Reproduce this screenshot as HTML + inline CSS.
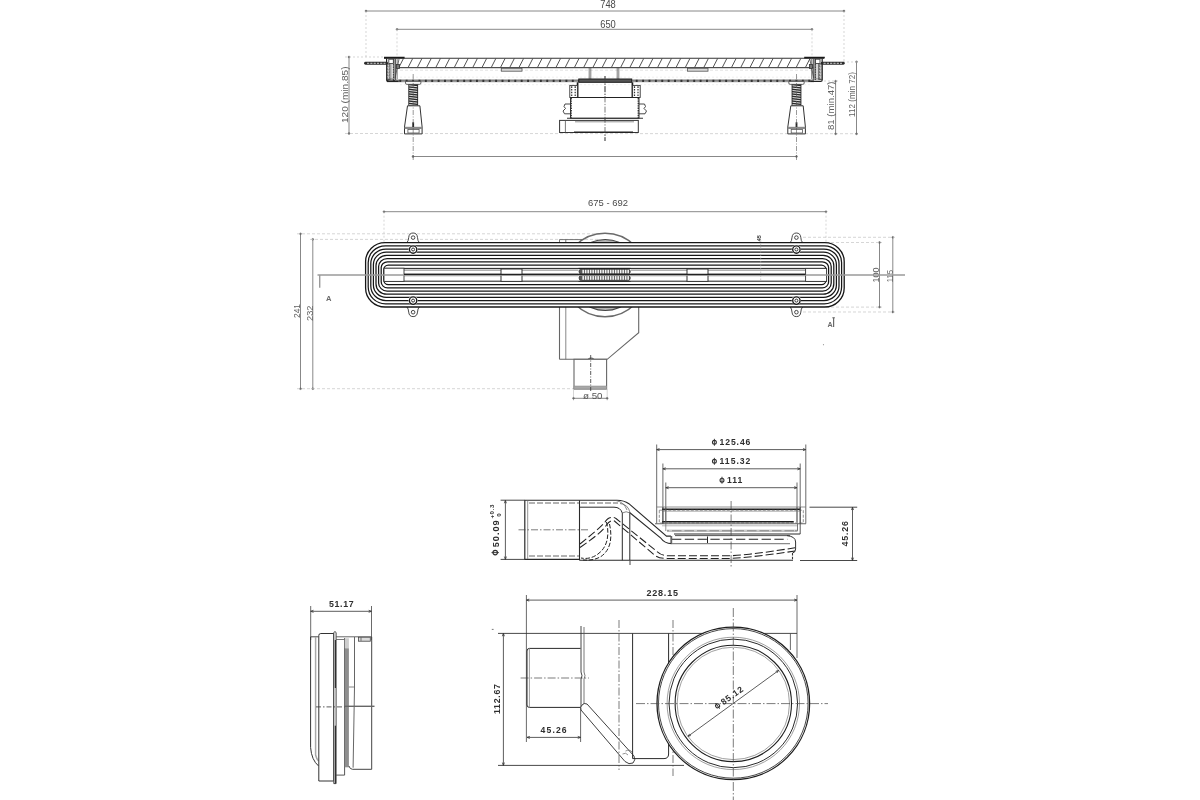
<!DOCTYPE html>
<html><head><meta charset="utf-8"><style>
html,body{margin:0;padding:0;background:#fff;}
svg{display:block;will-change:transform;}
text{font-family:"Liberation Sans",sans-serif;}
</style></head><body>
<svg width="1200" height="800" viewBox="0 0 1200 800" shape-rendering="geometricPrecision">
<rect width="1200" height="800" fill="#fff"/>
<line x1="366.00" y1="11.00" x2="844.00" y2="11.00" stroke="#6a6a6a" stroke-width="0.8" />
<circle cx="366.00" cy="11.00" r="0.90" stroke="#6a6a6a" stroke-width="0.6" fill="#6a6a6a" />
<circle cx="844.00" cy="11.00" r="0.90" stroke="#6a6a6a" stroke-width="0.6" fill="#6a6a6a" />
<line x1="366.00" y1="11.00" x2="366.00" y2="58.00" stroke="#c4c4c4" stroke-width="0.7" stroke-dasharray="2 2"/>
<line x1="844.00" y1="11.00" x2="844.00" y2="62.00" stroke="#c4c4c4" stroke-width="0.7" stroke-dasharray="2 2"/>
<text x="608.00" y="7.60" font-size="10.6" fill="#4a4a4a" text-anchor="middle" font-weight="normal" textLength="15.6" lengthAdjust="spacingAndGlyphs">748</text>
<line x1="397.00" y1="29.30" x2="812.00" y2="29.30" stroke="#6a6a6a" stroke-width="0.8" />
<circle cx="397.00" cy="29.30" r="0.90" stroke="#6a6a6a" stroke-width="0.6" fill="#6a6a6a" />
<circle cx="812.00" cy="29.30" r="0.90" stroke="#6a6a6a" stroke-width="0.6" fill="#6a6a6a" />
<line x1="397.00" y1="29.30" x2="397.00" y2="58.00" stroke="#c4c4c4" stroke-width="0.7" stroke-dasharray="2 2"/>
<line x1="812.00" y1="29.30" x2="812.00" y2="58.00" stroke="#c4c4c4" stroke-width="0.7" stroke-dasharray="2 2"/>
<text x="608.00" y="28.00" font-size="10.6" fill="#4a4a4a" text-anchor="middle" font-weight="normal" textLength="15.6" lengthAdjust="spacingAndGlyphs">650</text>
<line x1="349.00" y1="57.00" x2="349.00" y2="133.50" stroke="#6a6a6a" stroke-width="0.8" />
<circle cx="349.00" cy="57.00" r="0.90" stroke="#6a6a6a" stroke-width="0.6" fill="#6a6a6a" />
<circle cx="349.00" cy="133.50" r="0.90" stroke="#6a6a6a" stroke-width="0.6" fill="#6a6a6a" />
<line x1="345.00" y1="57.00" x2="384.00" y2="57.00" stroke="#c4c4c4" stroke-width="0.7" stroke-dasharray="2 2"/>
<line x1="345.00" y1="133.50" x2="860.00" y2="133.70" stroke="#c4c4c4" stroke-width="0.7" stroke-dasharray="3 2"/>
<text x="347.60" y="94.75" font-size="9.2" fill="#626262" text-anchor="middle" font-weight="normal" textLength="56.5" lengthAdjust="spacingAndGlyphs" transform="rotate(-90 347.60 94.75)">120 (min.85)</text>
<line x1="835.60" y1="81.20" x2="835.60" y2="133.80" stroke="#6a6a6a" stroke-width="0.8" />
<circle cx="835.60" cy="81.20" r="0.90" stroke="#6a6a6a" stroke-width="0.6" fill="#6a6a6a" />
<circle cx="835.60" cy="133.80" r="0.90" stroke="#6a6a6a" stroke-width="0.6" fill="#6a6a6a" />
<line x1="824.00" y1="81.00" x2="838.00" y2="81.00" stroke="#c4c4c4" stroke-width="0.7" stroke-dasharray="2 2"/>
<text x="834.20" y="105.75" font-size="9.2" fill="#626262" text-anchor="middle" font-weight="normal" textLength="48.5" lengthAdjust="spacingAndGlyphs" transform="rotate(-90 834.20 105.75)">81 (min.47)</text>
<line x1="856.50" y1="61.80" x2="856.50" y2="133.80" stroke="#6a6a6a" stroke-width="0.8" />
<circle cx="856.50" cy="61.80" r="0.90" stroke="#6a6a6a" stroke-width="0.6" fill="#6a6a6a" />
<circle cx="856.50" cy="133.80" r="0.90" stroke="#6a6a6a" stroke-width="0.6" fill="#6a6a6a" />
<line x1="843.00" y1="62.00" x2="859.00" y2="62.00" stroke="#c4c4c4" stroke-width="0.7" stroke-dasharray="2 2"/>
<text x="855.30" y="94.50" font-size="9.2" fill="#626262" text-anchor="middle" font-weight="normal" textLength="45" lengthAdjust="spacingAndGlyphs" transform="rotate(-90 855.30 94.50)">112 (min 72)</text>
<line x1="413.00" y1="156.50" x2="796.50" y2="156.50" stroke="#6a6a6a" stroke-width="0.8" />
<circle cx="413.00" cy="156.50" r="0.90" stroke="#6a6a6a" stroke-width="0.6" fill="#6a6a6a" />
<circle cx="796.50" cy="156.50" r="0.90" stroke="#6a6a6a" stroke-width="0.6" fill="#6a6a6a" />
<line x1="384.00" y1="58.30" x2="824.00" y2="58.30" stroke="#333" stroke-width="1.1" />
<line x1="399.00" y1="67.70" x2="814.00" y2="67.70" stroke="#262626" stroke-width="1" />
<line x1="398.80" y1="67.60" x2="403.50" y2="58.40" stroke="#4a4a4a" stroke-width="0.95" />
<line x1="408.04" y1="67.60" x2="412.74" y2="58.40" stroke="#4a4a4a" stroke-width="0.95" />
<line x1="417.28" y1="67.60" x2="421.98" y2="58.40" stroke="#4a4a4a" stroke-width="0.95" />
<line x1="426.52" y1="67.60" x2="431.22" y2="58.40" stroke="#4a4a4a" stroke-width="0.95" />
<line x1="435.76" y1="67.60" x2="440.46" y2="58.40" stroke="#4a4a4a" stroke-width="0.95" />
<line x1="445.00" y1="67.60" x2="449.70" y2="58.40" stroke="#4a4a4a" stroke-width="0.95" />
<line x1="454.24" y1="67.60" x2="458.94" y2="58.40" stroke="#4a4a4a" stroke-width="0.95" />
<line x1="463.48" y1="67.60" x2="468.18" y2="58.40" stroke="#4a4a4a" stroke-width="0.95" />
<line x1="472.72" y1="67.60" x2="477.42" y2="58.40" stroke="#4a4a4a" stroke-width="0.95" />
<line x1="481.96" y1="67.60" x2="486.66" y2="58.40" stroke="#4a4a4a" stroke-width="0.95" />
<line x1="491.20" y1="67.60" x2="495.90" y2="58.40" stroke="#4a4a4a" stroke-width="0.95" />
<line x1="500.44" y1="67.60" x2="505.14" y2="58.40" stroke="#4a4a4a" stroke-width="0.95" />
<line x1="509.68" y1="67.60" x2="514.38" y2="58.40" stroke="#4a4a4a" stroke-width="0.95" />
<line x1="518.92" y1="67.60" x2="523.62" y2="58.40" stroke="#4a4a4a" stroke-width="0.95" />
<line x1="528.16" y1="67.60" x2="532.86" y2="58.40" stroke="#4a4a4a" stroke-width="0.95" />
<line x1="537.40" y1="67.60" x2="542.10" y2="58.40" stroke="#4a4a4a" stroke-width="0.95" />
<line x1="546.64" y1="67.60" x2="551.34" y2="58.40" stroke="#4a4a4a" stroke-width="0.95" />
<line x1="555.88" y1="67.60" x2="560.58" y2="58.40" stroke="#4a4a4a" stroke-width="0.95" />
<line x1="565.12" y1="67.60" x2="569.82" y2="58.40" stroke="#4a4a4a" stroke-width="0.95" />
<line x1="574.36" y1="67.60" x2="579.06" y2="58.40" stroke="#4a4a4a" stroke-width="0.95" />
<line x1="583.60" y1="67.60" x2="588.30" y2="58.40" stroke="#4a4a4a" stroke-width="0.95" />
<line x1="592.84" y1="67.60" x2="597.54" y2="58.40" stroke="#4a4a4a" stroke-width="0.95" />
<line x1="602.08" y1="67.60" x2="606.78" y2="58.40" stroke="#4a4a4a" stroke-width="0.95" />
<line x1="611.32" y1="67.60" x2="616.02" y2="58.40" stroke="#4a4a4a" stroke-width="0.95" />
<line x1="620.56" y1="67.60" x2="625.26" y2="58.40" stroke="#4a4a4a" stroke-width="0.95" />
<line x1="629.80" y1="67.60" x2="634.50" y2="58.40" stroke="#4a4a4a" stroke-width="0.95" />
<line x1="639.04" y1="67.60" x2="643.74" y2="58.40" stroke="#4a4a4a" stroke-width="0.95" />
<line x1="648.28" y1="67.60" x2="652.98" y2="58.40" stroke="#4a4a4a" stroke-width="0.95" />
<line x1="657.52" y1="67.60" x2="662.22" y2="58.40" stroke="#4a4a4a" stroke-width="0.95" />
<line x1="666.76" y1="67.60" x2="671.46" y2="58.40" stroke="#4a4a4a" stroke-width="0.95" />
<line x1="676.00" y1="67.60" x2="680.70" y2="58.40" stroke="#4a4a4a" stroke-width="0.95" />
<line x1="685.24" y1="67.60" x2="689.94" y2="58.40" stroke="#4a4a4a" stroke-width="0.95" />
<line x1="694.48" y1="67.60" x2="699.18" y2="58.40" stroke="#4a4a4a" stroke-width="0.95" />
<line x1="703.72" y1="67.60" x2="708.42" y2="58.40" stroke="#4a4a4a" stroke-width="0.95" />
<line x1="712.96" y1="67.60" x2="717.66" y2="58.40" stroke="#4a4a4a" stroke-width="0.95" />
<line x1="722.20" y1="67.60" x2="726.90" y2="58.40" stroke="#4a4a4a" stroke-width="0.95" />
<line x1="731.44" y1="67.60" x2="736.14" y2="58.40" stroke="#4a4a4a" stroke-width="0.95" />
<line x1="740.68" y1="67.60" x2="745.38" y2="58.40" stroke="#4a4a4a" stroke-width="0.95" />
<line x1="749.92" y1="67.60" x2="754.62" y2="58.40" stroke="#4a4a4a" stroke-width="0.95" />
<line x1="759.16" y1="67.60" x2="763.86" y2="58.40" stroke="#4a4a4a" stroke-width="0.95" />
<line x1="768.40" y1="67.60" x2="773.10" y2="58.40" stroke="#4a4a4a" stroke-width="0.95" />
<line x1="777.64" y1="67.60" x2="782.34" y2="58.40" stroke="#4a4a4a" stroke-width="0.95" />
<line x1="786.88" y1="67.60" x2="791.58" y2="58.40" stroke="#4a4a4a" stroke-width="0.95" />
<line x1="796.12" y1="67.60" x2="800.82" y2="58.40" stroke="#4a4a4a" stroke-width="0.95" />
<line x1="805.36" y1="67.60" x2="810.06" y2="58.40" stroke="#4a4a4a" stroke-width="0.95" />
<line x1="387.00" y1="80.70" x2="814.00" y2="80.70" stroke="#a8a8a8" stroke-width="3.0" />
<line x1="387.00" y1="80.80" x2="814.00" y2="80.80" stroke="#666" stroke-width="0.8" />
<line x1="387.00" y1="80.90" x2="814.00" y2="80.90" stroke="#333" stroke-width="2.2" stroke-dasharray="1.9 4.49" stroke-dashoffset="0.46"/>
<line x1="400.00" y1="77.20" x2="812.00" y2="77.20" stroke="#e6e6e6" stroke-width="0.6" stroke-dasharray="2 2"/>
<line x1="400.00" y1="84.70" x2="812.00" y2="84.70" stroke="#e6e6e6" stroke-width="0.6" stroke-dasharray="2 2"/>
<line x1="400.00" y1="70.20" x2="812.00" y2="70.20" stroke="#cfcfcf" stroke-width="0.6" stroke-dasharray="3 2"/>
<rect x="501.30" y="68.30" width="20.70" height="2.90" stroke="#555" stroke-width="0.8" fill="#d9d9d9" />
<rect x="687.50" y="68.30" width="20.50" height="2.90" stroke="#555" stroke-width="0.8" fill="#d9d9d9" />
<line x1="589.20" y1="67.70" x2="589.20" y2="80.00" stroke="#444" stroke-width="0.7" />
<line x1="590.80" y1="67.70" x2="590.80" y2="80.00" stroke="#444" stroke-width="0.7" />
<line x1="617.20" y1="67.70" x2="617.20" y2="80.00" stroke="#444" stroke-width="0.7" />
<line x1="618.80" y1="67.70" x2="618.80" y2="80.00" stroke="#444" stroke-width="0.7" />
<line x1="384.00" y1="57.60" x2="404.60" y2="57.60" stroke="#1a1a1a" stroke-width="1.7" />
<path d="M386.6,58.5 L386.6,80 Q386.6,81.4 388.1,81.4 L398.6,81.4" stroke="#222" stroke-width="1.2" fill="none" />
<rect x="386.90" y="64.00" width="3.20" height="15.50" stroke="#333" stroke-width="0.8" fill="#fff" />
<rect x="387.50" y="65.00" width="2.00" height="1.80" stroke="#555" stroke-width="0.6" fill="#fff" />
<rect x="387.50" y="68.00" width="2.00" height="1.80" stroke="#555" stroke-width="0.6" fill="#fff" />
<rect x="387.50" y="71.00" width="2.00" height="1.80" stroke="#555" stroke-width="0.6" fill="#fff" />
<rect x="387.50" y="74.00" width="2.00" height="1.80" stroke="#555" stroke-width="0.6" fill="#fff" />
<rect x="387.50" y="77.00" width="2.00" height="1.80" stroke="#555" stroke-width="0.6" fill="#fff" />
<rect x="390.10" y="59.00" width="3.30" height="20.00" stroke="#444" stroke-width="0.7" fill="#fff" />
<line x1="391.80" y1="60.00" x2="391.80" y2="79.00" stroke="#777" stroke-width="0.6" />
<rect x="393.40" y="59.00" width="2.20" height="21.00" stroke="none" stroke-width="0" fill="#9a9a9a" />
<line x1="393.40" y1="59.00" x2="393.40" y2="80.00" stroke="#333" stroke-width="0.9" stroke-dasharray="1.5 1"/>
<line x1="395.60" y1="59.00" x2="395.60" y2="80.00" stroke="#444" stroke-width="0.9" />
<line x1="397.20" y1="58.50" x2="397.20" y2="79.00" stroke="#666" stroke-width="0.8" />
<path d="M399.0,59 L395.1,78" stroke="#444" stroke-width="0.8" fill="none" />
<rect x="396.40" y="64.50" width="3.00" height="4.00" stroke="#333" stroke-width="0.8" fill="#777" />
<rect x="388.80" y="59.20" width="4.50" height="4.20" stroke="#333" stroke-width="0.8" fill="#fff" />
<line x1="824.80" y1="57.60" x2="804.20" y2="57.60" stroke="#1a1a1a" stroke-width="1.7" />
<path d="M822.2,58.5 L822.2,80 Q822.2,81.4 820.7,81.4 L810.2,81.4" stroke="#222" stroke-width="1.2" fill="none" />
<rect x="818.70" y="64.00" width="3.20" height="15.50" stroke="#333" stroke-width="0.8" fill="#fff" />
<rect x="819.30" y="65.00" width="2.00" height="1.80" stroke="#555" stroke-width="0.6" fill="#fff" />
<rect x="819.30" y="68.00" width="2.00" height="1.80" stroke="#555" stroke-width="0.6" fill="#fff" />
<rect x="819.30" y="71.00" width="2.00" height="1.80" stroke="#555" stroke-width="0.6" fill="#fff" />
<rect x="819.30" y="74.00" width="2.00" height="1.80" stroke="#555" stroke-width="0.6" fill="#fff" />
<rect x="819.30" y="77.00" width="2.00" height="1.80" stroke="#555" stroke-width="0.6" fill="#fff" />
<rect x="815.40" y="59.00" width="3.30" height="20.00" stroke="#444" stroke-width="0.7" fill="#fff" />
<line x1="817.00" y1="60.00" x2="817.00" y2="79.00" stroke="#777" stroke-width="0.6" />
<rect x="813.20" y="59.00" width="2.20" height="21.00" stroke="none" stroke-width="0" fill="#9a9a9a" />
<line x1="815.40" y1="59.00" x2="815.40" y2="80.00" stroke="#333" stroke-width="0.9" stroke-dasharray="1.5 1"/>
<line x1="813.20" y1="59.00" x2="813.20" y2="80.00" stroke="#444" stroke-width="0.9" />
<line x1="811.60" y1="58.50" x2="811.60" y2="79.00" stroke="#666" stroke-width="0.8" />
<path d="M809.8000000000001,59 L813.7,78" stroke="#444" stroke-width="0.8" fill="none" />
<rect x="809.40" y="64.50" width="3.00" height="4.00" stroke="#333" stroke-width="0.8" fill="#777" />
<rect x="815.50" y="59.20" width="4.50" height="4.20" stroke="#333" stroke-width="0.8" fill="#fff" />
<line x1="365.50" y1="63.25" x2="386.60" y2="63.25" stroke="#2a2a2a" stroke-width="2.8" stroke-linecap="round"/>
<line x1="367.00" y1="63.25" x2="385.50" y2="63.25" stroke="#d8d8d8" stroke-width="1.0" stroke-dasharray="2.2 1.1"/>
<line x1="822.20" y1="63.25" x2="843.30" y2="63.25" stroke="#2a2a2a" stroke-width="2.8" stroke-linecap="round"/>
<line x1="823.50" y1="63.25" x2="842.00" y2="63.25" stroke="#d8d8d8" stroke-width="1.0" stroke-dasharray="2.2 1.1"/>
<path d="M405.5,81.4 L420.9,81.4 L420.9,83 Q420.9,84.4 419.5,84.4 L406.9,84.4 Q405.5,84.4 405.5,83 Z" stroke="#444" stroke-width="0.8" fill="#f6f6f6" />
<rect x="408.30" y="84.40" width="9.80" height="21.30" stroke="none" stroke-width="0" fill="#2a2a2a" />
<line x1="409.20" y1="85.80" x2="417.20" y2="86.70" stroke="#e4e4e4" stroke-width="1.0" />
<line x1="409.20" y1="88.15" x2="417.20" y2="89.05" stroke="#e4e4e4" stroke-width="1.0" />
<line x1="409.20" y1="90.50" x2="417.20" y2="91.40" stroke="#e4e4e4" stroke-width="1.0" />
<line x1="409.20" y1="92.85" x2="417.20" y2="93.75" stroke="#e4e4e4" stroke-width="1.0" />
<line x1="409.20" y1="95.20" x2="417.20" y2="96.10" stroke="#e4e4e4" stroke-width="1.0" />
<line x1="409.20" y1="97.55" x2="417.20" y2="98.45" stroke="#e4e4e4" stroke-width="1.0" />
<line x1="409.20" y1="99.90" x2="417.20" y2="100.80" stroke="#e4e4e4" stroke-width="1.0" />
<line x1="409.20" y1="102.25" x2="417.20" y2="103.15" stroke="#e4e4e4" stroke-width="1.0" />
<line x1="409.20" y1="104.60" x2="417.20" y2="105.50" stroke="#e4e4e4" stroke-width="1.0" />
<path d="M407.5,105.8 L419.9,105.8 L422.09999999999997,127 L422.09999999999997,133.9 L404.5,133.9 L404.5,127 Z" stroke="#333" stroke-width="1" fill="#fff" />
<rect x="404.50" y="126.80" width="17.60" height="2.20" stroke="none" stroke-width="0" fill="#8a8a8a" />
<rect x="407.90" y="129.40" width="11.20" height="3.60" stroke="#555" stroke-width="0.8" fill="#fff" />
<line x1="413.20" y1="122.30" x2="413.20" y2="127.00" stroke="#222" stroke-width="1.8" />
<line x1="413.20" y1="74.00" x2="413.20" y2="161.00" stroke="#555" stroke-width="0.6" stroke-dasharray="5 1.5 1 1.5"/>
<path d="M788.8,81.4 L804.2,81.4 L804.2,83 Q804.2,84.4 802.8,84.4 L790.2,84.4 Q788.8,84.4 788.8,83 Z" stroke="#444" stroke-width="0.8" fill="#f6f6f6" />
<rect x="791.60" y="84.40" width="9.80" height="21.30" stroke="none" stroke-width="0" fill="#2a2a2a" />
<line x1="792.50" y1="85.80" x2="800.50" y2="86.70" stroke="#e4e4e4" stroke-width="1.0" />
<line x1="792.50" y1="88.15" x2="800.50" y2="89.05" stroke="#e4e4e4" stroke-width="1.0" />
<line x1="792.50" y1="90.50" x2="800.50" y2="91.40" stroke="#e4e4e4" stroke-width="1.0" />
<line x1="792.50" y1="92.85" x2="800.50" y2="93.75" stroke="#e4e4e4" stroke-width="1.0" />
<line x1="792.50" y1="95.20" x2="800.50" y2="96.10" stroke="#e4e4e4" stroke-width="1.0" />
<line x1="792.50" y1="97.55" x2="800.50" y2="98.45" stroke="#e4e4e4" stroke-width="1.0" />
<line x1="792.50" y1="99.90" x2="800.50" y2="100.80" stroke="#e4e4e4" stroke-width="1.0" />
<line x1="792.50" y1="102.25" x2="800.50" y2="103.15" stroke="#e4e4e4" stroke-width="1.0" />
<line x1="792.50" y1="104.60" x2="800.50" y2="105.50" stroke="#e4e4e4" stroke-width="1.0" />
<path d="M790.8,105.8 L803.2,105.8 L805.4,127 L805.4,133.9 L787.8,133.9 L787.8,127 Z" stroke="#333" stroke-width="1" fill="#fff" />
<rect x="787.80" y="126.80" width="17.60" height="2.20" stroke="none" stroke-width="0" fill="#8a8a8a" />
<rect x="791.20" y="129.40" width="11.20" height="3.60" stroke="#555" stroke-width="0.8" fill="#fff" />
<line x1="796.50" y1="122.30" x2="796.50" y2="127.00" stroke="#222" stroke-width="1.8" />
<line x1="796.50" y1="74.00" x2="796.50" y2="161.00" stroke="#555" stroke-width="0.6" stroke-dasharray="5 1.5 1 1.5"/>
<line x1="605.00" y1="76.00" x2="605.00" y2="141.00" stroke="#444" stroke-width="0.7" stroke-dasharray="6 1.5 1.2 1.5"/>
<rect x="578.80" y="79.00" width="52.90" height="3.30" stroke="#1e1e1e" stroke-width="1" fill="#555" />
<line x1="577.60" y1="82.30" x2="577.60" y2="97.50" stroke="#1a1a1a" stroke-width="1.7" />
<line x1="632.40" y1="82.30" x2="632.40" y2="97.50" stroke="#1a1a1a" stroke-width="1.7" />
<rect x="569.80" y="85.40" width="7.60" height="12.10" stroke="#333" stroke-width="0.9" fill="#fff" />
<line x1="571.70" y1="86.30" x2="571.70" y2="96.80" stroke="#333" stroke-width="1.2" stroke-dasharray="1.6 1.1"/>
<line x1="575.20" y1="86.30" x2="575.20" y2="96.80" stroke="#333" stroke-width="1.2" stroke-dasharray="1.6 1.1"/>
<rect x="632.60" y="85.40" width="7.60" height="12.10" stroke="#333" stroke-width="0.9" fill="#fff" />
<line x1="634.50" y1="86.30" x2="634.50" y2="96.80" stroke="#333" stroke-width="1.2" stroke-dasharray="1.6 1.1"/>
<line x1="638.00" y1="86.30" x2="638.00" y2="96.80" stroke="#333" stroke-width="1.2" stroke-dasharray="1.6 1.1"/>
<rect x="570.50" y="97.50" width="68.50" height="20.80" stroke="#333" stroke-width="1" fill="#fff" />
<line x1="571.20" y1="98.00" x2="571.20" y2="118.00" stroke="#333" stroke-width="1.4" stroke-dasharray="1.4 1"/>
<line x1="638.30" y1="98.00" x2="638.30" y2="118.00" stroke="#333" stroke-width="1.4" stroke-dasharray="1.4 1"/>
<line x1="570.50" y1="97.50" x2="639.00" y2="97.50" stroke="#222" stroke-width="1.1" />
<path d="M570.5,104 L565,104 L564,106.5 L565.5,108.5 L563,111 L564.5,113.8 L570.5,113.8" stroke="#333" stroke-width="0.9" fill="none" />
<path d="M639,104 L644.5,104 L645.5,106.5 L644,108.5 L646.5,111 L645,113.8 L639,113.8" stroke="#333" stroke-width="0.9" fill="none" />
<line x1="567.00" y1="118.30" x2="643.00" y2="118.30" stroke="#333" stroke-width="1.1" />
<rect x="559.60" y="120.40" width="78.70" height="12.10" stroke="#333" stroke-width="1" fill="#fff" />
<line x1="565.40" y1="120.40" x2="565.40" y2="132.50" stroke="#555" stroke-width="0.8" />
<line x1="575.00" y1="121.80" x2="634.00" y2="121.80" stroke="#777" stroke-width="0.8" />
<line x1="574.00" y1="132.30" x2="633.00" y2="132.30" stroke="#222" stroke-width="1.6" />
<line x1="605.00" y1="76.00" x2="605.00" y2="141.00" stroke="#444" stroke-width="0.7" stroke-dasharray="6 1.5 1.2 1.5"/>
<line x1="384.00" y1="211.70" x2="826.00" y2="211.70" stroke="#6a6a6a" stroke-width="0.8" />
<circle cx="384.00" cy="211.70" r="0.90" stroke="#6a6a6a" stroke-width="0.6" fill="#6a6a6a" />
<circle cx="826.00" cy="211.70" r="0.90" stroke="#6a6a6a" stroke-width="0.6" fill="#6a6a6a" />
<line x1="384.00" y1="211.70" x2="384.00" y2="243.00" stroke="#c4c4c4" stroke-width="0.7" stroke-dasharray="2 2"/>
<line x1="826.00" y1="211.70" x2="826.00" y2="243.00" stroke="#c4c4c4" stroke-width="0.7" stroke-dasharray="2 2"/>
<text x="608.00" y="206.20" font-size="9.8" fill="#4a4a4a" text-anchor="middle" font-weight="normal" textLength="40" lengthAdjust="spacingAndGlyphs">675 - 692</text>
<line x1="300.50" y1="233.80" x2="300.50" y2="388.70" stroke="#6a6a6a" stroke-width="0.8" />
<circle cx="300.50" cy="233.80" r="0.90" stroke="#6a6a6a" stroke-width="0.6" fill="#6a6a6a" />
<circle cx="300.50" cy="388.70" r="0.90" stroke="#6a6a6a" stroke-width="0.6" fill="#6a6a6a" />
<line x1="312.80" y1="239.30" x2="312.80" y2="388.70" stroke="#6a6a6a" stroke-width="0.8" />
<circle cx="312.80" cy="239.30" r="0.90" stroke="#6a6a6a" stroke-width="0.6" fill="#6a6a6a" />
<circle cx="312.80" cy="388.70" r="0.90" stroke="#6a6a6a" stroke-width="0.6" fill="#6a6a6a" />
<line x1="297.00" y1="233.80" x2="600.00" y2="233.80" stroke="#c4c4c4" stroke-width="0.7" stroke-dasharray="3 2"/>
<line x1="310.00" y1="239.40" x2="600.00" y2="239.40" stroke="#c4c4c4" stroke-width="0.7" stroke-dasharray="3 2"/>
<line x1="297.00" y1="388.70" x2="574.00" y2="388.70" stroke="#c4c4c4" stroke-width="0.7" stroke-dasharray="3 2"/>
<text x="300.20" y="311.00" font-size="9.8" fill="#626262" text-anchor="middle" font-weight="normal" textLength="14" lengthAdjust="spacingAndGlyphs" transform="rotate(-90 300.20 311.00)">241</text>
<text x="312.60" y="313.20" font-size="9.8" fill="#626262" text-anchor="middle" font-weight="normal" textLength="15.5" lengthAdjust="spacingAndGlyphs" transform="rotate(-90 312.60 313.20)">232</text>
<line x1="879.50" y1="242.50" x2="879.50" y2="307.10" stroke="#6a6a6a" stroke-width="0.8" />
<circle cx="879.50" cy="242.50" r="0.90" stroke="#6a6a6a" stroke-width="0.6" fill="#6a6a6a" />
<circle cx="879.50" cy="307.10" r="0.90" stroke="#6a6a6a" stroke-width="0.6" fill="#6a6a6a" />
<line x1="892.80" y1="237.30" x2="892.80" y2="312.00" stroke="#6a6a6a" stroke-width="0.8" />
<circle cx="892.80" cy="237.30" r="0.90" stroke="#6a6a6a" stroke-width="0.6" fill="#6a6a6a" />
<circle cx="892.80" cy="312.00" r="0.90" stroke="#6a6a6a" stroke-width="0.6" fill="#6a6a6a" />
<line x1="826.00" y1="242.50" x2="882.00" y2="242.50" stroke="#c4c4c4" stroke-width="0.7" stroke-dasharray="3 2"/>
<line x1="826.00" y1="307.10" x2="882.00" y2="307.10" stroke="#c4c4c4" stroke-width="0.7" stroke-dasharray="3 2"/>
<line x1="803.00" y1="237.30" x2="895.00" y2="237.30" stroke="#c4c4c4" stroke-width="0.7" stroke-dasharray="3 2"/>
<line x1="803.00" y1="312.00" x2="895.00" y2="312.00" stroke="#c4c4c4" stroke-width="0.7" stroke-dasharray="3 2"/>
<text x="879.40" y="274.90" font-size="9.8" fill="#626262" text-anchor="middle" font-weight="normal" textLength="15" lengthAdjust="spacingAndGlyphs" transform="rotate(-90 879.40 274.90)">100</text>
<text x="892.90" y="276.20" font-size="9.8" fill="#626262" text-anchor="middle" font-weight="normal" textLength="12.3" lengthAdjust="spacingAndGlyphs" transform="rotate(-90 892.90 276.20)">115</text>
<circle cx="605.00" cy="275.00" r="41.80" stroke="#6a6a6a" stroke-width="1.5" fill="none" />
<circle cx="605.20" cy="275.00" r="35.50" stroke="#444" stroke-width="1.1" fill="#b4b4b4" />
<line x1="559.50" y1="239.60" x2="583.00" y2="239.60" stroke="#666" stroke-width="0.9" />
<line x1="559.50" y1="239.60" x2="559.50" y2="243.00" stroke="#666" stroke-width="0.9" />
<line x1="565.80" y1="239.60" x2="565.80" y2="243.00" stroke="#666" stroke-width="0.9" />
<line x1="559.50" y1="300.00" x2="559.50" y2="359.30" stroke="#666" stroke-width="1.1" />
<line x1="565.80" y1="300.00" x2="565.80" y2="359.30" stroke="#888" stroke-width="1.0" />
<path d="M638.7,300 L638.7,332.7 L607.2,359.3 L594,359.3 Q591,357 588,359.3 L559.5,359.3" stroke="#666" stroke-width="1.1" fill="none" />
<rect x="574.00" y="359.30" width="32.60" height="29.70" stroke="#666" stroke-width="1.1" fill="#fff" />
<rect x="574.00" y="386.00" width="32.70" height="3.00" stroke="#888" stroke-width="0.5" fill="#a8a8a8" />
<line x1="590.70" y1="355.00" x2="590.70" y2="392.00" stroke="#333" stroke-width="0.8" stroke-dasharray="4 1.5 1 1.5"/>
<line x1="573.50" y1="389.00" x2="573.50" y2="400.50" stroke="#c4c4c4" stroke-width="0.7" />
<line x1="607.20" y1="389.00" x2="607.20" y2="400.50" stroke="#c4c4c4" stroke-width="0.7" />
<line x1="573.50" y1="398.30" x2="607.20" y2="398.30" stroke="#6a6a6a" stroke-width="0.8" />
<circle cx="573.50" cy="398.30" r="0.90" stroke="#6a6a6a" stroke-width="0.6" fill="#6a6a6a" />
<circle cx="607.20" cy="398.30" r="0.90" stroke="#6a6a6a" stroke-width="0.6" fill="#6a6a6a" />
<text x="592.80" y="398.90" font-size="8.6" fill="#555" text-anchor="middle" font-weight="normal" textLength="19.5" lengthAdjust="spacingAndGlyphs">ø 50</text>
<path d="M406.90000000000003,242.6 Q408.5,241 408.70000000000005,237.5 Q409.1,233 413.1,233 Q417.1,233 417.5,237.5 Q417.70000000000005,241 419.3,242.6" stroke="#333" stroke-width="0.9" fill="#fff" />
<circle cx="413.10" cy="237.60" r="1.80" stroke="#333" stroke-width="0.9" fill="none" />
<path d="M406.90000000000003,307 Q408.5,308.6 408.70000000000005,312.1 Q409.1,316.6 413.1,316.6 Q417.1,316.6 417.5,312.1 Q417.70000000000005,308.6 419.3,307" stroke="#333" stroke-width="0.9" fill="#fff" />
<circle cx="413.10" cy="312.20" r="1.80" stroke="#333" stroke-width="0.9" fill="none" />
<path d="M790.1999999999999,242.6 Q791.8,241 792.0,237.5 Q792.4,233 796.4,233 Q800.4,233 800.8,237.5 Q801.0,241 802.6,242.6" stroke="#333" stroke-width="0.9" fill="#fff" />
<circle cx="796.40" cy="237.60" r="1.80" stroke="#333" stroke-width="0.9" fill="none" />
<path d="M790.1999999999999,307 Q791.8,308.6 792.0,312.1 Q792.4,316.6 796.4,316.6 Q800.4,316.6 800.8,312.1 Q801.0,308.6 802.6,307" stroke="#333" stroke-width="0.9" fill="#fff" />
<circle cx="796.40" cy="312.20" r="1.80" stroke="#333" stroke-width="0.9" fill="none" />
<rect x="365.60" y="242.60" width="478.60" height="64.40" stroke="#161616" stroke-width="1.3" fill="#fff" rx="19.5" ry="19.0"/>
<rect x="368.20" y="245.80" width="473.40" height="58.00" stroke="#161616" stroke-width="1.25" fill="none" rx="17.3" ry="16.8"/>
<rect x="370.80" y="249.00" width="468.20" height="51.60" stroke="#161616" stroke-width="1.25" fill="none" rx="15.1" ry="14.6"/>
<rect x="373.40" y="252.20" width="463.00" height="45.20" stroke="#161616" stroke-width="1.25" fill="none" rx="12.9" ry="12.4"/>
<rect x="376.00" y="255.40" width="457.80" height="38.80" stroke="#161616" stroke-width="1.25" fill="none" rx="10.7" ry="10.2"/>
<rect x="378.60" y="258.60" width="452.60" height="32.40" stroke="#161616" stroke-width="1.25" fill="none" rx="8.5" ry="8.0"/>
<rect x="381.20" y="261.80" width="447.40" height="26.00" stroke="#161616" stroke-width="1.25" fill="none" rx="6.3" ry="5.8"/>
<rect x="383.80" y="265.00" width="442.20" height="19.60" stroke="#161616" stroke-width="1.25" fill="none" rx="4.5" ry="4.5"/>
<line x1="384.00" y1="268.40" x2="826.60" y2="268.40" stroke="#1e1e1e" stroke-width="1.0" />
<line x1="384.00" y1="281.20" x2="826.60" y2="281.20" stroke="#1e1e1e" stroke-width="1.0" />
<line x1="404.00" y1="270.10" x2="805.60" y2="270.10" stroke="#999" stroke-width="1.2" />
<line x1="404.00" y1="274.40" x2="805.60" y2="274.40" stroke="#222" stroke-width="1.2" />
<line x1="404.00" y1="275.90" x2="805.60" y2="275.90" stroke="#aaa" stroke-width="0.8" />
<rect x="384.00" y="268.20" width="20.00" height="13.20" stroke="#333" stroke-width="0.9" fill="#fff" />
<rect x="805.60" y="268.40" width="21.00" height="13.00" stroke="#333" stroke-width="0.9" fill="#fff" />
<rect x="501.00" y="269.00" width="21.00" height="12.40" stroke="#333" stroke-width="1" fill="#fff" />
<line x1="501.00" y1="275.00" x2="522.00" y2="275.00" stroke="#444" stroke-width="0.8" />
<rect x="687.00" y="269.00" width="21.00" height="12.40" stroke="#333" stroke-width="1" fill="#fff" />
<line x1="687.00" y1="275.00" x2="708.00" y2="275.00" stroke="#444" stroke-width="0.8" />
<rect x="578.50" y="268.90" width="52.20" height="12.00" stroke="none" stroke-width="0" fill="#fff" />
<rect x="579.00" y="269.00" width="51.30" height="5.20" stroke="#333" stroke-width="0.7" fill="#5a5a5a" rx="2.60" ry="2.60"/>
<rect x="582.40" y="269.80" width="1.55" height="3.60" stroke="none" stroke-width="0" fill="#f4f4f4" />
<rect x="584.90" y="269.80" width="1.55" height="3.60" stroke="none" stroke-width="0" fill="#f4f4f4" />
<rect x="587.40" y="269.80" width="1.55" height="3.60" stroke="none" stroke-width="0" fill="#f4f4f4" />
<rect x="589.90" y="269.80" width="1.55" height="3.60" stroke="none" stroke-width="0" fill="#f4f4f4" />
<rect x="592.40" y="269.80" width="1.55" height="3.60" stroke="none" stroke-width="0" fill="#f4f4f4" />
<rect x="594.90" y="269.80" width="1.55" height="3.60" stroke="none" stroke-width="0" fill="#f4f4f4" />
<rect x="597.40" y="269.80" width="1.55" height="3.60" stroke="none" stroke-width="0" fill="#f4f4f4" />
<rect x="599.90" y="269.80" width="1.55" height="3.60" stroke="none" stroke-width="0" fill="#f4f4f4" />
<rect x="602.40" y="269.80" width="1.55" height="3.60" stroke="none" stroke-width="0" fill="#f4f4f4" />
<rect x="604.90" y="269.80" width="1.55" height="3.60" stroke="none" stroke-width="0" fill="#f4f4f4" />
<rect x="607.40" y="269.80" width="1.55" height="3.60" stroke="none" stroke-width="0" fill="#f4f4f4" />
<rect x="609.90" y="269.80" width="1.55" height="3.60" stroke="none" stroke-width="0" fill="#f4f4f4" />
<rect x="612.40" y="269.80" width="1.55" height="3.60" stroke="none" stroke-width="0" fill="#f4f4f4" />
<rect x="614.90" y="269.80" width="1.55" height="3.60" stroke="none" stroke-width="0" fill="#f4f4f4" />
<rect x="617.40" y="269.80" width="1.55" height="3.60" stroke="none" stroke-width="0" fill="#f4f4f4" />
<rect x="619.90" y="269.80" width="1.55" height="3.60" stroke="none" stroke-width="0" fill="#f4f4f4" />
<rect x="622.40" y="269.80" width="1.55" height="3.60" stroke="none" stroke-width="0" fill="#f4f4f4" />
<rect x="624.90" y="269.80" width="1.55" height="3.60" stroke="none" stroke-width="0" fill="#f4f4f4" />
<rect x="627.40" y="269.80" width="1.55" height="3.60" stroke="none" stroke-width="0" fill="#f4f4f4" />
<rect x="579.00" y="275.30" width="51.30" height="5.30" stroke="#333" stroke-width="0.7" fill="#5a5a5a" rx="2.65" ry="2.65"/>
<rect x="582.40" y="276.10" width="1.55" height="3.70" stroke="none" stroke-width="0" fill="#f4f4f4" />
<rect x="584.90" y="276.10" width="1.55" height="3.70" stroke="none" stroke-width="0" fill="#f4f4f4" />
<rect x="587.40" y="276.10" width="1.55" height="3.70" stroke="none" stroke-width="0" fill="#f4f4f4" />
<rect x="589.90" y="276.10" width="1.55" height="3.70" stroke="none" stroke-width="0" fill="#f4f4f4" />
<rect x="592.40" y="276.10" width="1.55" height="3.70" stroke="none" stroke-width="0" fill="#f4f4f4" />
<rect x="594.90" y="276.10" width="1.55" height="3.70" stroke="none" stroke-width="0" fill="#f4f4f4" />
<rect x="597.40" y="276.10" width="1.55" height="3.70" stroke="none" stroke-width="0" fill="#f4f4f4" />
<rect x="599.90" y="276.10" width="1.55" height="3.70" stroke="none" stroke-width="0" fill="#f4f4f4" />
<rect x="602.40" y="276.10" width="1.55" height="3.70" stroke="none" stroke-width="0" fill="#f4f4f4" />
<rect x="604.90" y="276.10" width="1.55" height="3.70" stroke="none" stroke-width="0" fill="#f4f4f4" />
<rect x="607.40" y="276.10" width="1.55" height="3.70" stroke="none" stroke-width="0" fill="#f4f4f4" />
<rect x="609.90" y="276.10" width="1.55" height="3.70" stroke="none" stroke-width="0" fill="#f4f4f4" />
<rect x="612.40" y="276.10" width="1.55" height="3.70" stroke="none" stroke-width="0" fill="#f4f4f4" />
<rect x="614.90" y="276.10" width="1.55" height="3.70" stroke="none" stroke-width="0" fill="#f4f4f4" />
<rect x="617.40" y="276.10" width="1.55" height="3.70" stroke="none" stroke-width="0" fill="#f4f4f4" />
<rect x="619.90" y="276.10" width="1.55" height="3.70" stroke="none" stroke-width="0" fill="#f4f4f4" />
<rect x="622.40" y="276.10" width="1.55" height="3.70" stroke="none" stroke-width="0" fill="#f4f4f4" />
<rect x="624.90" y="276.10" width="1.55" height="3.70" stroke="none" stroke-width="0" fill="#f4f4f4" />
<rect x="627.40" y="276.10" width="1.55" height="3.70" stroke="none" stroke-width="0" fill="#f4f4f4" />
<line x1="578.50" y1="268.40" x2="630.70" y2="268.40" stroke="#1e1e1e" stroke-width="1.0" />
<line x1="578.50" y1="281.20" x2="630.70" y2="281.20" stroke="#1e1e1e" stroke-width="1.0" />
<circle cx="413.10" cy="249.50" r="4.60" stroke="none" stroke-width="0" fill="#fff" />
<circle cx="413.10" cy="249.50" r="3.70" stroke="#1a1a1a" stroke-width="1.35" fill="#fff" />
<circle cx="413.10" cy="249.50" r="1.50" stroke="#222" stroke-width="0.9" fill="none" />
<circle cx="413.10" cy="300.60" r="4.60" stroke="none" stroke-width="0" fill="#fff" />
<circle cx="413.10" cy="300.60" r="3.70" stroke="#1a1a1a" stroke-width="1.35" fill="#fff" />
<circle cx="413.10" cy="300.60" r="1.50" stroke="#222" stroke-width="0.9" fill="none" />
<circle cx="796.40" cy="249.50" r="4.60" stroke="none" stroke-width="0" fill="#fff" />
<circle cx="796.40" cy="249.50" r="3.70" stroke="#1a1a1a" stroke-width="1.35" fill="#fff" />
<circle cx="796.40" cy="249.50" r="1.50" stroke="#222" stroke-width="0.9" fill="none" />
<circle cx="796.40" cy="300.60" r="4.60" stroke="none" stroke-width="0" fill="#fff" />
<circle cx="796.40" cy="300.60" r="3.70" stroke="#1a1a1a" stroke-width="1.35" fill="#fff" />
<circle cx="796.40" cy="300.60" r="1.50" stroke="#222" stroke-width="0.9" fill="none" />
<line x1="317.50" y1="275.00" x2="905.00" y2="275.00" stroke="#9a9a9a" stroke-width="1.3" />
<line x1="404.00" y1="274.40" x2="805.60" y2="274.40" stroke="#222" stroke-width="1.2" />
<line x1="319.70" y1="275.00" x2="319.70" y2="287.80" stroke="#9a9a9a" stroke-width="1.4" />
<text x="328.70" y="300.80" font-size="7.8" fill="#6a6a6a" text-anchor="middle" font-weight="bold" textLength="5.5" lengthAdjust="spacingAndGlyphs">A</text>
<line x1="833.60" y1="317.60" x2="833.60" y2="327.00" stroke="#6a6a6a" stroke-width="1.2" />
<line x1="832.20" y1="317.80" x2="835.00" y2="317.80" stroke="#6a6a6a" stroke-width="0.9" />
<circle cx="823.50" cy="344.70" r="0.60" stroke="none" stroke-width="0" fill="#999" />
<text x="830.20" y="327.20" font-size="7.5" fill="#6a6a6a" text-anchor="middle" font-weight="bold" textLength="5.2" lengthAdjust="spacingAndGlyphs">A</text>
<line x1="760.70" y1="240.00" x2="760.70" y2="280.00" stroke="#aaa" stroke-width="0.6" stroke-dasharray="2 1.5"/>
<text x="761.50" y="238.30" font-size="6.2" fill="#333" text-anchor="middle" font-weight="bold" textLength="6" lengthAdjust="spacingAndGlyphs" transform="rotate(-90 761.50 238.30)">45</text>
<line x1="656.70" y1="449.60" x2="805.80" y2="449.60" stroke="#333" stroke-width="0.8" />
<line x1="656.70" y1="449.60" x2="659.52" y2="450.63" stroke="#333" stroke-width="0.8" />
<line x1="656.70" y1="449.60" x2="659.52" y2="448.57" stroke="#333" stroke-width="0.8" />
<line x1="805.80" y1="449.60" x2="802.98" y2="448.57" stroke="#333" stroke-width="0.8" />
<line x1="805.80" y1="449.60" x2="802.98" y2="450.63" stroke="#333" stroke-width="0.8" />
<line x1="656.70" y1="444.50" x2="656.70" y2="523.60" stroke="#444" stroke-width="0.8" />
<line x1="805.80" y1="444.50" x2="805.80" y2="523.60" stroke="#444" stroke-width="0.8" />
<g transform="translate(731.15,445.40) rotate(0)">
<circle cx="-16.75" cy="-3.08" r="1.95" stroke="#2e2e2e" stroke-width="1.1" fill="none"/>
<line x1="-16.75" y1="-6.56" x2="-16.75" y2="0.4" stroke="#2e2e2e" stroke-width="0.9"/>
<text x="-11.65" y="0" font-size="8.6" fill="#2e2e2e" text-anchor="start" font-weight="bold" textLength="30.90" lengthAdjust="spacing">125.46</text>
</g>
<line x1="662.90" y1="468.80" x2="800.20" y2="468.80" stroke="#333" stroke-width="0.8" />
<line x1="662.90" y1="468.80" x2="665.72" y2="469.83" stroke="#333" stroke-width="0.8" />
<line x1="662.90" y1="468.80" x2="665.72" y2="467.77" stroke="#333" stroke-width="0.8" />
<line x1="800.20" y1="468.80" x2="797.38" y2="467.77" stroke="#333" stroke-width="0.8" />
<line x1="800.20" y1="468.80" x2="797.38" y2="469.83" stroke="#333" stroke-width="0.8" />
<line x1="662.90" y1="463.50" x2="662.90" y2="524.00" stroke="#444" stroke-width="0.8" />
<line x1="800.20" y1="463.50" x2="800.20" y2="524.00" stroke="#444" stroke-width="0.8" />
<g transform="translate(731.15,464.40) rotate(0)">
<circle cx="-16.75" cy="-3.08" r="1.95" stroke="#2e2e2e" stroke-width="1.1" fill="none"/>
<line x1="-16.75" y1="-6.56" x2="-16.75" y2="0.4" stroke="#2e2e2e" stroke-width="0.9"/>
<text x="-11.65" y="0" font-size="8.6" fill="#2e2e2e" text-anchor="start" font-weight="bold" textLength="30.90" lengthAdjust="spacing">115.32</text>
</g>
<line x1="665.80" y1="487.70" x2="797.00" y2="487.70" stroke="#333" stroke-width="0.8" />
<line x1="665.80" y1="487.70" x2="668.62" y2="488.73" stroke="#333" stroke-width="0.8" />
<line x1="665.80" y1="487.70" x2="668.62" y2="486.67" stroke="#333" stroke-width="0.8" />
<line x1="797.00" y1="487.70" x2="794.18" y2="486.67" stroke="#333" stroke-width="0.8" />
<line x1="797.00" y1="487.70" x2="794.18" y2="488.73" stroke="#333" stroke-width="0.8" />
<line x1="665.80" y1="482.50" x2="665.80" y2="522.00" stroke="#444" stroke-width="0.8" />
<line x1="797.00" y1="482.50" x2="797.00" y2="522.00" stroke="#444" stroke-width="0.8" />
<g transform="translate(730.85,483.30) rotate(0)">
<circle cx="-8.85" cy="-3.08" r="1.95" stroke="#2e2e2e" stroke-width="1.1" fill="none"/>
<line x1="-8.85" y1="-6.56" x2="-8.85" y2="0.4" stroke="#2e2e2e" stroke-width="0.9"/>
<text x="-3.75" y="0" font-size="8.6" fill="#2e2e2e" text-anchor="start" font-weight="bold" textLength="15.10" lengthAdjust="spacing">111</text>
</g>
<line x1="809.50" y1="507.20" x2="857.20" y2="507.20" stroke="#333" stroke-width="0.9" />
<line x1="800.00" y1="560.50" x2="857.20" y2="560.50" stroke="#333" stroke-width="0.9" />
<line x1="852.50" y1="507.20" x2="852.50" y2="560.50" stroke="#333" stroke-width="0.8" />
<line x1="852.50" y1="507.20" x2="851.47" y2="510.02" stroke="#333" stroke-width="0.8" />
<line x1="852.50" y1="507.20" x2="853.53" y2="510.02" stroke="#333" stroke-width="0.8" />
<line x1="852.50" y1="560.50" x2="853.53" y2="557.68" stroke="#333" stroke-width="0.8" />
<line x1="852.50" y1="560.50" x2="851.47" y2="557.68" stroke="#333" stroke-width="0.8" />
<text x="848.20" y="533.75" font-size="8.9" fill="#2e2e2e" text-anchor="middle" font-weight="bold" textLength="25.5" lengthAdjust="spacing" transform="rotate(-90 848.20 533.75)">45.26</text>
<line x1="500.60" y1="500.20" x2="525.00" y2="500.20" stroke="#333" stroke-width="0.9" />
<line x1="500.60" y1="559.40" x2="525.00" y2="559.40" stroke="#333" stroke-width="0.9" />
<line x1="505.40" y1="500.40" x2="505.40" y2="559.40" stroke="#333" stroke-width="0.8" />
<line x1="505.40" y1="500.40" x2="504.37" y2="503.22" stroke="#333" stroke-width="0.8" />
<line x1="505.40" y1="500.40" x2="506.43" y2="503.22" stroke="#333" stroke-width="0.8" />
<line x1="505.40" y1="559.40" x2="506.43" y2="556.58" stroke="#333" stroke-width="0.8" />
<line x1="505.40" y1="559.40" x2="504.37" y2="556.58" stroke="#333" stroke-width="0.8" />
<g transform="translate(498.50,537.90) rotate(-90)">
<circle cx="-14.70" cy="-3.29" r="2.25" stroke="#2e2e2e" stroke-width="1.1" fill="none"/>
<line x1="-14.70" y1="-6.99" x2="-14.70" y2="0.4" stroke="#2e2e2e" stroke-width="0.9"/>
<text x="-9.30" y="0" font-size="9.2" fill="#2e2e2e" text-anchor="start" font-weight="bold" textLength="26.80" lengthAdjust="spacing">50.09</text>
</g>
<text x="494.20" y="511.60" font-size="6.2" fill="#2e2e2e" text-anchor="middle" font-weight="bold" textLength="14" lengthAdjust="spacing" transform="rotate(-90 494.20 511.60)">+0.3</text>
<text x="500.80" y="515.00" font-size="6.2" fill="#2e2e2e" text-anchor="middle" font-weight="bold" transform="rotate(-90 500.80 515.00)">0</text>
<line x1="524.80" y1="500.20" x2="579.30" y2="500.20" stroke="#2a2a2a" stroke-width="1.1" />
<line x1="524.80" y1="559.40" x2="579.30" y2="559.40" stroke="#2a2a2a" stroke-width="1.1" />
<line x1="524.80" y1="500.20" x2="524.80" y2="559.40" stroke="#2a2a2a" stroke-width="1.2" />
<line x1="527.70" y1="500.60" x2="527.70" y2="559.00" stroke="#777" stroke-width="0.8" />
<line x1="579.50" y1="500.20" x2="579.50" y2="560.30" stroke="#2a2a2a" stroke-width="1.1" />
<line x1="529.00" y1="503.00" x2="579.00" y2="503.00" stroke="#555" stroke-width="0.9" stroke-dasharray="6 2"/>
<line x1="529.00" y1="556.00" x2="579.00" y2="556.00" stroke="#555" stroke-width="0.9" stroke-dasharray="6 2"/>
<line x1="518.50" y1="529.80" x2="588.00" y2="529.80" stroke="#444" stroke-width="0.7" stroke-dasharray="7 2 1.5 2"/>
<path d="M579.3,500.2 L617,500.2 Q624,500.2 628.9,503.7 L666.5,536.1 L670.9,536.1" stroke="#2a2a2a" stroke-width="1.1" fill="none" />
<path d="M630.2,513 L660.5,537.8 Q664.5,543.6 671.7,543.6" stroke="#2a2a2a" stroke-width="1.1" fill="none" />
<line x1="670.90" y1="536.10" x2="670.90" y2="543.60" stroke="#444" stroke-width="0.9" />
<path d="M579.5,507.2 L614,507.2 Q620.5,507.2 622.3,513 L622.3,560.3" stroke="#2a2a2a" stroke-width="1.0" fill="none" />
<line x1="629.80" y1="512.00" x2="629.80" y2="560.30" stroke="#2a2a2a" stroke-width="1.0" />
<path d="M616,500.5 Q624,502 627,510 M620,503.5 Q628,504 630.2,513 M622.3,513 Q626,510.5 630.2,513" stroke="#666" stroke-width="0.8" fill="none" />
<line x1="581.00" y1="503.00" x2="618.00" y2="503.00" stroke="#555" stroke-width="0.9" stroke-dasharray="6 2"/>
<line x1="579.50" y1="560.30" x2="793.00" y2="560.30" stroke="#2a2a2a" stroke-width="1.1" />
<line x1="630.00" y1="561.00" x2="630.00" y2="565.00" stroke="#333" stroke-width="0.9" />
<path d="M580,544 C591,535 600,528 605,522 C607.5,517.5 612,516 616,518.5 L657,551.5 C661,555 664,555.8 670,555.8 L730,555.8 C752,554.5 775,551 795,547.7" stroke="#222" stroke-width="1.05" fill="none" stroke-dasharray="8 3"/>
<path d="M580,547.5 C592,539 602,532 606.5,525 C609,521 612.5,519.5 615,521.5 L654.5,555 C658,557.8 661,558.4 667,558.4 L730,558.4 C752,557.2 775,554 795,551" stroke="#222" stroke-width="1.05" fill="none" stroke-dasharray="8 3"/>
<path d="M606.5,522 C609,532 609,546 598,554 C592,558.5 586,559 581,558" stroke="#222" stroke-width="1.0" fill="none" stroke-dasharray="4.5 1.8"/>
<path d="M609.5,524 C612,535 612,549 601,556.5 C595,560 589,560.5 583,560" stroke="#222" stroke-width="1.0" fill="none" stroke-dasharray="4.5 1.8"/>
<line x1="656.70" y1="507.00" x2="805.80" y2="507.00" stroke="#777" stroke-width="0.8" />
<line x1="662.00" y1="509.20" x2="800.00" y2="509.20" stroke="#1c1c1c" stroke-width="1.6" />
<line x1="662.00" y1="511.20" x2="800.00" y2="511.20" stroke="#888" stroke-width="0.7" />
<rect x="659.30" y="510.20" width="144.00" height="12.80" stroke="#666" stroke-width="0.7" fill="none" stroke-dasharray="3 1.5"/>
<line x1="662.00" y1="521.75" x2="793.75" y2="521.75" stroke="#1c1c1c" stroke-width="1.7" />
<line x1="655.00" y1="523.80" x2="806.00" y2="523.80" stroke="#666" stroke-width="1.1" />
<line x1="662.00" y1="525.80" x2="797.50" y2="525.80" stroke="#9a9a9a" stroke-width="0.7" />
<line x1="662.90" y1="507.00" x2="662.90" y2="524.00" stroke="#444" stroke-width="0.8" />
<line x1="800.20" y1="507.00" x2="800.20" y2="534.00" stroke="#444" stroke-width="0.9" />
<line x1="665.80" y1="507.00" x2="665.80" y2="531.00" stroke="#666" stroke-width="0.7" />
<line x1="797.00" y1="507.00" x2="797.00" y2="523.80" stroke="#666" stroke-width="0.7" />
<line x1="667.00" y1="530.80" x2="797.50" y2="530.80" stroke="#9a9a9a" stroke-width="1.9" />
<line x1="669.00" y1="530.80" x2="795.00" y2="530.80" stroke="#f4f4f4" stroke-width="0.8" stroke-dasharray="3 9.5"/>
<line x1="797.50" y1="523.80" x2="797.50" y2="530.80" stroke="#666" stroke-width="0.9" />
<line x1="674.00" y1="534.00" x2="800.20" y2="534.00" stroke="#2a2a2a" stroke-width="1.0" />
<line x1="675.00" y1="535.60" x2="790.00" y2="535.60" stroke="#444" stroke-width="0.9" />
<line x1="672.00" y1="539.25" x2="787.50" y2="539.25" stroke="#222" stroke-width="1.0" stroke-dasharray="9.3 3.5"/>
<line x1="707.50" y1="536.50" x2="707.50" y2="544.00" stroke="#222" stroke-width="1.0" />
<line x1="671.70" y1="536.00" x2="671.70" y2="543.60" stroke="#444" stroke-width="0.9" />
<line x1="671.70" y1="543.60" x2="790.00" y2="543.60" stroke="#8a8a8a" stroke-width="1.2" />
<path d="M787,535.6 Q795.6,536.5 795.6,542 L795.6,549 Q795.6,552.5 792.5,553" stroke="#333" stroke-width="1.0" fill="none" />
<line x1="792.50" y1="553.00" x2="792.50" y2="560.30" stroke="#333" stroke-width="1.1" stroke-dasharray="2.5 1.2"/>
<line x1="731.10" y1="501.00" x2="731.10" y2="567.00" stroke="#444" stroke-width="0.7" stroke-dasharray="8 2 1.5 2"/>
<text x="341.25" y="607.40" font-size="8.8" fill="#2e2e2e" text-anchor="middle" font-weight="bold" textLength="24.7" lengthAdjust="spacing">51.17</text>
<line x1="310.70" y1="611.30" x2="371.50" y2="611.30" stroke="#333" stroke-width="0.8" />
<line x1="310.70" y1="611.30" x2="313.52" y2="612.33" stroke="#333" stroke-width="0.8" />
<line x1="310.70" y1="611.30" x2="313.52" y2="610.27" stroke="#333" stroke-width="0.8" />
<line x1="371.50" y1="611.30" x2="368.68" y2="610.27" stroke="#333" stroke-width="0.8" />
<line x1="371.50" y1="611.30" x2="368.68" y2="612.33" stroke="#333" stroke-width="0.8" />
<line x1="310.70" y1="606.00" x2="310.70" y2="640.00" stroke="#444" stroke-width="0.8" />
<line x1="371.50" y1="606.00" x2="371.50" y2="640.00" stroke="#444" stroke-width="0.8" />
<path d="M310.6,637 L310.6,747.5 Q311.5,760 318.6,766" stroke="#333" stroke-width="1.0" fill="none" />
<path d="M315.6,637.5 L315.6,755 Q316.5,759 318.6,761" stroke="#a8a8a8" stroke-width="1.5" fill="none" />
<line x1="310.60" y1="636.80" x2="318.60" y2="636.80" stroke="#333" stroke-width="0.9" />
<path d="M318.8,781 L318.8,635.5 Q318.8,633.5 320.8,633.5 L333.8,633.5 L333.8,781 Z" stroke="#333" stroke-width="1.0" fill="#fff" />
<path d="M333.8,783.6 L333.8,632.5 Q335,630.6 336.1,632.5 L336.1,783.6 Z" stroke="#333" stroke-width="0.9" fill="#fff" />
<line x1="335.30" y1="640.00" x2="335.30" y2="688.00" stroke="#111" stroke-width="1.0" />
<line x1="335.30" y1="725.70" x2="335.30" y2="783.20" stroke="#111" stroke-width="1.0" />
<line x1="336.10" y1="636.80" x2="371.70" y2="636.80" stroke="#555" stroke-width="0.9" />
<line x1="336.10" y1="639.50" x2="344.60" y2="639.50" stroke="#555" stroke-width="0.8" />
<line x1="336.10" y1="775.10" x2="344.60" y2="775.10" stroke="#444" stroke-width="0.9" />
<line x1="344.60" y1="638.00" x2="344.60" y2="775.10" stroke="#444" stroke-width="0.9" />
<rect x="344.80" y="638.30" width="4.10" height="10.00" stroke="none" stroke-width="0" fill="#cdcdcd" />
<rect x="344.80" y="648.30" width="4.10" height="119.00" stroke="none" stroke-width="0" fill="#8e8e8e" />
<path d="M348.9,766 Q350,769.3 352.5,769.3 L371.7,769.3" stroke="#444" stroke-width="1.0" fill="none" />
<line x1="371.70" y1="636.80" x2="371.70" y2="769.30" stroke="#444" stroke-width="1.0" />
<rect x="358.50" y="637.20" width="11.80" height="4.00" stroke="#444" stroke-width="0.8" fill="#dcdcdc" />
<line x1="361.00" y1="637.50" x2="361.00" y2="640.80" stroke="#444" stroke-width="0.7" />
<path d="M354.5,637 L354.5,687 L353.1,767.7" stroke="#555" stroke-width="0.9" fill="none" />
<line x1="348.90" y1="687.00" x2="354.50" y2="687.00" stroke="#666" stroke-width="0.8" />
<line x1="316.00" y1="706.90" x2="344.60" y2="706.90" stroke="#333" stroke-width="0.8" stroke-dasharray="5 2 1.5 2"/>
<line x1="344.60" y1="706.30" x2="374.50" y2="706.30" stroke="#666" stroke-width="1.4" />
<text x="662.20" y="596.00" font-size="9.0" fill="#2e2e2e" text-anchor="middle" font-weight="bold" textLength="31.6" lengthAdjust="spacing">228.15</text>
<line x1="526.40" y1="600.10" x2="797.00" y2="600.10" stroke="#333" stroke-width="0.8" />
<line x1="526.40" y1="600.10" x2="529.22" y2="601.13" stroke="#333" stroke-width="0.8" />
<line x1="526.40" y1="600.10" x2="529.22" y2="599.07" stroke="#333" stroke-width="0.8" />
<line x1="797.00" y1="600.10" x2="794.18" y2="599.07" stroke="#333" stroke-width="0.8" />
<line x1="797.00" y1="600.10" x2="794.18" y2="601.13" stroke="#333" stroke-width="0.8" />
<line x1="526.40" y1="595.00" x2="526.40" y2="742.00" stroke="#444" stroke-width="0.8" />
<line x1="797.00" y1="595.00" x2="797.00" y2="658.00" stroke="#444" stroke-width="0.8" />
<line x1="498.00" y1="633.40" x2="797.00" y2="633.40" stroke="#333" stroke-width="0.9" />
<line x1="498.00" y1="765.40" x2="684.00" y2="765.40" stroke="#333" stroke-width="0.9" />
<line x1="503.40" y1="633.40" x2="503.40" y2="765.40" stroke="#333" stroke-width="0.8" />
<line x1="503.40" y1="633.40" x2="502.37" y2="636.22" stroke="#333" stroke-width="0.8" />
<line x1="503.40" y1="633.40" x2="504.43" y2="636.22" stroke="#333" stroke-width="0.8" />
<line x1="503.40" y1="765.40" x2="504.43" y2="762.58" stroke="#333" stroke-width="0.8" />
<line x1="503.40" y1="765.40" x2="502.37" y2="762.58" stroke="#333" stroke-width="0.8" />
<text x="499.60" y="699.00" font-size="8.9" fill="#2e2e2e" text-anchor="middle" font-weight="bold" textLength="30" lengthAdjust="spacing" transform="rotate(-90 499.60 699.00)">112.67</text>
<line x1="491.80" y1="629.40" x2="493.60" y2="629.40" stroke="#555" stroke-width="0.8" />
<path d="M580.6,648.4 L529.4,648.4 Q527,648.4 527,651 L527,705 Q527,707.4 529.4,707.4 L580.6,707.4" stroke="#2a2a2a" stroke-width="1.0" fill="none" />
<line x1="529.40" y1="648.40" x2="529.40" y2="707.40" stroke="#777" stroke-width="0.7" />
<path d="M581,626 L581,672 Q583,676 581,679 L581,707" stroke="#333" stroke-width="0.9" fill="none" />
<path d="M584,627 L584,672 Q586,676 584,679 L584,707" stroke="#555" stroke-width="0.8" fill="none" />
<line x1="520.60" y1="678.00" x2="589.00" y2="678.00" stroke="#444" stroke-width="0.7" stroke-dasharray="8 2 1.5 2"/>
<line x1="580.60" y1="707.00" x2="580.60" y2="742.00" stroke="#444" stroke-width="0.8" />
<line x1="527.00" y1="737.40" x2="580.60" y2="737.40" stroke="#333" stroke-width="0.8" />
<line x1="527.00" y1="737.40" x2="529.82" y2="738.43" stroke="#333" stroke-width="0.8" />
<line x1="527.00" y1="737.40" x2="529.82" y2="736.37" stroke="#333" stroke-width="0.8" />
<line x1="580.60" y1="737.40" x2="577.78" y2="736.37" stroke="#333" stroke-width="0.8" />
<line x1="580.60" y1="737.40" x2="577.78" y2="738.43" stroke="#333" stroke-width="0.8" />
<text x="553.60" y="733.20" font-size="8.6" fill="#2e2e2e" text-anchor="middle" font-weight="bold" textLength="26" lengthAdjust="spacing">45.26</text>
<path d="M581,710 L625,761.5 Q629,765 633,763 Q636,760 634,756 L587,704 Q584,702.5 582,705 Q580,707 581,710 Z" stroke="#2a2a2a" stroke-width="0.9" fill="#fff" />
<path d="M622.5,754 Q626,752 628,755 M625.5,751 Q630,749 632,752" stroke="#666" stroke-width="0.7" fill="none" />
<line x1="619.00" y1="620.00" x2="619.00" y2="770.00" stroke="#444" stroke-width="0.7" stroke-dasharray="8 2 1.5 2"/>
<line x1="632.60" y1="633.40" x2="632.60" y2="758.60" stroke="#2a2a2a" stroke-width="1.0" />
<path d="M632.6,758.6 L664,758.6 Q668.6,758.6 668.6,754 L668.6,633.4" stroke="#2a2a2a" stroke-width="1.0" fill="none" />
<line x1="673.00" y1="620.00" x2="673.00" y2="776.00" stroke="#444" stroke-width="0.7" stroke-dasharray="8 2 1.5 2"/>
<line x1="790.40" y1="633.40" x2="790.40" y2="650.00" stroke="#444" stroke-width="0.8" />
<circle cx="733.30" cy="703.40" r="76.30" stroke="#1e1e1e" stroke-width="1.3" fill="#fff" />
<circle cx="733.30" cy="703.40" r="74.80" stroke="#333" stroke-width="0.9" fill="none" />
<circle cx="733.30" cy="703.40" r="66.20" stroke="#888" stroke-width="0.8" fill="none" />
<circle cx="733.30" cy="703.40" r="64.30" stroke="#2a2a2a" stroke-width="1.0" fill="none" />
<circle cx="733.30" cy="703.40" r="58.20" stroke="#1e1e1e" stroke-width="1.1" fill="none" />
<circle cx="733.30" cy="703.40" r="56.20" stroke="#888" stroke-width="0.8" fill="none" />
<line x1="636.00" y1="703.60" x2="828.00" y2="703.60" stroke="#444" stroke-width="0.7" stroke-dasharray="9 2 1.5 2"/>
<line x1="733.30" y1="608.00" x2="733.30" y2="800.00" stroke="#444" stroke-width="0.7" stroke-dasharray="9 2 1.5 2"/>
<line x1="688.00" y1="736.32" x2="778.60" y2="670.48" stroke="#333" stroke-width="0.8" />
<line x1="688.00" y1="736.32" x2="690.88" y2="735.49" stroke="#333" stroke-width="0.8" />
<line x1="688.00" y1="736.32" x2="689.67" y2="733.83" stroke="#333" stroke-width="0.8" />
<line x1="778.60" y1="670.48" x2="775.72" y2="671.31" stroke="#333" stroke-width="0.8" />
<line x1="778.60" y1="670.48" x2="776.93" y2="672.97" stroke="#333" stroke-width="0.8" />
<g transform="translate(730.60,700.20) rotate(-36)">
<circle cx="-13.85" cy="-3.08" r="1.95" stroke="#2e2e2e" stroke-width="1.1" fill="none"/>
<line x1="-13.85" y1="-6.56" x2="-13.85" y2="0.4" stroke="#2e2e2e" stroke-width="0.9"/>
<text x="-8.75" y="0" font-size="8.6" fill="#2e2e2e" text-anchor="start" font-weight="bold" textLength="25.10" lengthAdjust="spacing">85.12</text>
</g>
</svg></body></html>
